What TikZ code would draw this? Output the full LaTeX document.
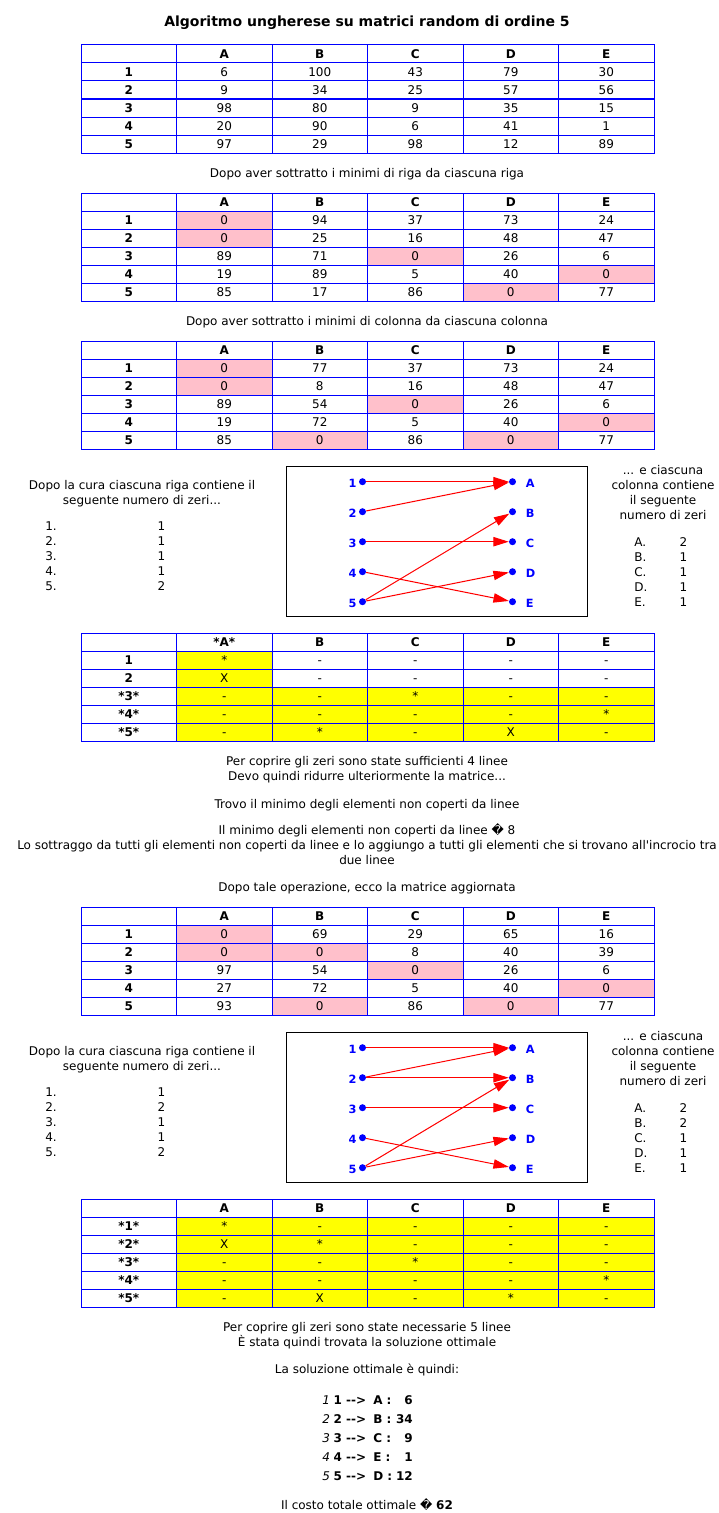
\documentclass[tikz,border=0pt]{standalone}
\usepackage{fontspec}
\setmainfont{DejaVu Sans}[Ligatures=TeXOff]
\usetikzlibrary{arrows.meta}
\definecolor{cellblue}{HTML}{0000FF}
\definecolor{pk}{HTML}{FFC0CB}
\definecolor{yl}{HTML}{FFFF00}
\colorlet{wh}{white}

\begin{document}
\begin{tikzpicture}[x=0.75pt,y=-0.75pt,
  cell/.style={draw=cellblue,line width=0.75pt,minimum width=71.625pt,minimum height=13.5pt,
    inner sep=0pt,text height=6.5pt,text depth=0pt,font=\fontsize{9}{11.25}\selectfont},
  head/.style={cell,font=\fontsize{9}{11.25}\selectfont\bfseries},
  txt/.style={anchor=base,inner sep=0pt,align=center,font=\fontsize{9}{11.25}\selectfont},
  dot/.style={circle,fill=cellblue,inner sep=0pt,minimum size=5.25pt},
  lbl/.style={text=cellblue,inner sep=0pt,font=\fontsize{8.5}{10}\selectfont\bfseries},
  arc/.style={red,line width=0.75pt,-{Triangle[length=11.5pt,width=7pt]}},
  frame/.style={draw,line width=0.75pt,minimum width=225.75pt,minimum height=112.5pt,inner sep=0pt}]

\useasboundingbox (0,0) rectangle (718,1513);

% title
\node[txt,font=\fontsize{10.5}{12}\selectfont\bfseries] (title) at (367,27) {Algoritmo ungherese su matrici random di ordine 5};

% table 1: random costs
\foreach \h [count=\c from 0] in {{},A,B,C,D,E}
  \node[head] (m1-0-\c) at ({128.75+95.5*\c},54) {\h};
\foreach \h [count=\r] in {1,2,3,4,5}
  \node[head] (m1-\r-0) at (128.75,{54+18*\r}) {\h};
\foreach \vals [count=\r] in {{6,100,43,79,30},{9,34,25,57,56},{98,80,9,35,15},{20,90,6,41,1},{97,29,98,12,89}}
  \foreach \v [count=\c] in \vals
    \node[cell] (m1-\r-\c) at ({128.75+95.5*\c},{54+18*\r}) {\v};

\node[txt] (step1) at (367,177) {Dopo aver sottratto i minimi di riga da ciascuna riga};

% table 2: after row minima
\foreach \h [count=\c from 0] in {{},A,B,C,D,E}
  \node[head] (m2-0-\c) at ({128.75+95.5*\c},202) {\h};
\foreach \h [count=\r] in {1,2,3,4,5}
  \node[head] (m2-\r-0) at (128.75,{202+18*\r}) {\h};
\foreach \vals [count=\r] in {{0/pk,94/wh,37/wh,73/wh,24/wh},{0/pk,25/wh,16/wh,48/wh,47/wh},{89/wh,71/wh,0/pk,26/wh,6/wh},{19/wh,89/wh,5/wh,40/wh,0/pk},{85/wh,17/wh,86/wh,0/pk,77/wh}}
  \foreach \v/\f [count=\c] in \vals
    \node[cell,fill=\f] (m2-\r-\c) at ({128.75+95.5*\c},{202+18*\r}) {\v};

\node[txt] (step2) at (367,325) {Dopo aver sottratto i minimi di colonna da ciascuna colonna};

% table 3: after column minima
\foreach \h [count=\c from 0] in {{},A,B,C,D,E}
  \node[head] (m3-0-\c) at ({128.75+95.5*\c},350) {\h};
\foreach \h [count=\r] in {1,2,3,4,5}
  \node[head] (m3-\r-0) at (128.75,{350+18*\r}) {\h};
\foreach \vals [count=\r] in {{0/pk,77/wh,37/wh,73/wh,24/wh},{0/pk,8/wh,16/wh,48/wh,47/wh},{89/wh,54/wh,0/pk,26/wh,6/wh},{19/wh,72/wh,5/wh,40/wh,0/pk},{85/wh,0/pk,86/wh,0/pk,77/wh}}
  \foreach \v/\f [count=\c] in \vals
    \node[cell,fill=\f] (m3-\r-\c) at ({128.75+95.5*\c},{350+18*\r}) {\v};

% zeros per row
\node[txt] (rowtxt1) at (142,504) {Dopo la cura ciascuna riga contiene il\\seguente numero di zeri...};
\foreach \k/\z [count=\i] in {1/1,2/1,3/1,4/1,5/2} {
  \node[txt,anchor=base west] (rn1-\i) at (45,{515.7+15*\i}) {\k.};
  \node[txt] (rz1-\i) at (161.5,{515.7+15*\i}) {\z};
}

% graph of zeros
\node[frame] (box1) at (436.5,541) {};
\foreach \n [count=\i] in {1,2,3,4,5}
  \node[dot,label={[lbl,label distance=1.5pt,yshift=-1.5pt]left:\n}] (g1-\n) at (362.5,{451.7+30*\i}) {};
\foreach \n [count=\i] in {A,B,C,D,E}
  \node[dot,label={[lbl,label distance=7pt,yshift=-1pt]right:\n}] (g1-\n) at (512.5,{451.7+30*\i}) {};
\foreach \a/\b in {1/A,2/A,3/C,4/E,5/B,5/D}
  \draw[arc] (g1-\a) -- (g1-\b);

% zeros per column
\node[txt] (coltxt1) at (663,519) {... e ciascuna\\colonna contiene\\il seguente\\numero di zeri};
\foreach \k/\z [count=\i] in {A/2,B/1,C/1,D/1,E/1} {
  \node[txt,anchor=base west] (cn1-\i) at (634,{531.7+15*\i}) {\k.};
  \node[txt] (cz1-\i) at (683.5,{531.7+15*\i}) {\z};
}

% table 4: covering lines
\foreach \h [count=\c from 0] in {{},*A*,B,C,D,E}
  \node[head] (m4-0-\c) at ({128.75+95.5*\c},642) {\h};
\foreach \h [count=\r] in {1,2,*3*,*4*,*5*}
  \node[head] (m4-\r-0) at (128.75,{642+18*\r}) {\h};
\foreach \vals [count=\r] in {{*/yl,-/wh,-/wh,-/wh,-/wh},{X/yl,-/wh,-/wh,-/wh,-/wh},{-/yl,-/yl,*/yl,-/yl,-/yl},{-/yl,-/yl,-/yl,-/yl,*/yl},{-/yl,*/yl,-/yl,X/yl,-/yl}}
  \foreach \v/\f [count=\c] in \vals
    \node[cell,fill=\f] (m4-\r-\c) at ({128.75+95.5*\c},{642+18*\r}) {\v};

\node[txt] (lines4) at (367,780.7) {Per coprire gli zeri sono state sufficienti 4 linee\\Devo quindi ridurre ulteriormente la matrice...};
\node[txt] (findmin) at (367,808) {Trovo il minimo degli elementi non coperti da linee};
\node[txt] (minval) at (367,864.3) {Il minimo degli elementi non coperti da linee \char"FFFD{} 8\\Lo sottraggo da tutti gli elementi non coperti da linee e lo aggiungo a tutti gli elementi che si trovano all'incrocio tra\\due linee};
\node[txt] (step3) at (367,891.7) {Dopo tale operazione, ecco la matrice aggiornata};

% table 5: updated matrix
\foreach \h [count=\c from 0] in {{},A,B,C,D,E}
  \node[head] (m5-0-\c) at ({128.75+95.5*\c},916) {\h};
\foreach \h [count=\r] in {1,2,3,4,5}
  \node[head] (m5-\r-0) at (128.75,{916+18*\r}) {\h};
\foreach \vals [count=\r] in {{0/pk,69/wh,29/wh,65/wh,16/wh},{0/pk,0/pk,8/wh,40/wh,39/wh},{97/wh,54/wh,0/pk,26/wh,6/wh},{27/wh,72/wh,5/wh,40/wh,0/pk},{93/wh,0/pk,86/wh,0/pk,77/wh}}
  \foreach \v/\f [count=\c] in \vals
    \node[cell,fill=\f] (m5-\r-\c) at ({128.75+95.5*\c},{916+18*\r}) {\v};

\begin{scope}[shift={(0,566)}]
% zeros per row
\node[txt] (rowtxt2) at (142,504) {Dopo la cura ciascuna riga contiene il\\seguente numero di zeri...};
\foreach \k/\z [count=\i] in {1/1,2/2,3/1,4/1,5/2} {
  \node[txt,anchor=base west] (rn2-\i) at (45,{515.7+15*\i}) {\k.};
  \node[txt] (rz2-\i) at (161.5,{515.7+15*\i}) {\z};
}

% graph of zeros
\node[frame] (box2) at (436.5,541) {};
\foreach \n [count=\i] in {1,2,3,4,5}
  \node[dot,label={[lbl,label distance=1.5pt,yshift=-1.5pt]left:\n}] (g2-\n) at (362.5,{451.7+30*\i}) {};
\foreach \n [count=\i] in {A,B,C,D,E}
  \node[dot,label={[lbl,label distance=7pt,yshift=-1pt]right:\n}] (g2-\n) at (512.5,{451.7+30*\i}) {};
\foreach \a/\b in {1/A,2/A,2/B,3/C,4/E,5/B,5/D}
  \draw[arc] (g2-\a) -- (g2-\b);

% zeros per column
\node[txt] (coltxt2) at (663,519) {... e ciascuna\\colonna contiene\\il seguente\\numero di zeri};
\foreach \k/\z [count=\i] in {A/2,B/2,C/1,D/1,E/1} {
  \node[txt,anchor=base west] (cn2-\i) at (634,{531.7+15*\i}) {\k.};
  \node[txt] (cz2-\i) at (683.5,{531.7+15*\i}) {\z};
}
\end{scope}

% table 6: final covering
\foreach \h [count=\c from 0] in {{},A,B,C,D,E}
  \node[head] (m6-0-\c) at ({128.75+95.5*\c},1208) {\h};
\foreach \h [count=\r] in {*1*,*2*,*3*,*4*,*5*}
  \node[head] (m6-\r-0) at (128.75,{1208+18*\r}) {\h};
\foreach \vals [count=\r] in {{*/yl,-/yl,-/yl,-/yl,-/yl},{X/yl,*/yl,-/yl,-/yl,-/yl},{-/yl,-/yl,*/yl,-/yl,-/yl},{-/yl,-/yl,-/yl,-/yl,*/yl},{-/yl,X/yl,-/yl,*/yl,-/yl}}
  \foreach \v/\f [count=\c] in \vals
    \node[cell,fill=\f] (m6-\r-\c) at ({128.75+95.5*\c},{1208+18*\r}) {\v};

\node[txt] (lines5) at (367,1346.5) {Per coprire gli zeri sono state necessarie 5 linee\\È stata quindi trovata la soluzione ottimale};
\node[txt] (soltxt) at (367,1373.7) {La soluzione ottimale è quindi:};

% optimal assignment
\foreach \k/\col/\cost [count=\i] in {1/A/6,2/B/34,3/C/9,4/E/1,5/D/12} {
  \node[txt,anchor=base west] (sol-\i) at (322,{1385+19*\i}) {\textit{\k}~\textbf{\k~-->}};
  \node[txt,anchor=base west] (dst-\i) at (373,{1385+19*\i}) {\textbf{\col~:}};
  \node[txt,anchor=base east] (cost-\i) at (413,{1385+19*\i}) {\textbf{\cost}};
}

\node[txt] (total) at (367,1509.3) {Il costo totale ottimale \char"FFFD{} \textbf{62}};

\end{tikzpicture}
\end{document}
